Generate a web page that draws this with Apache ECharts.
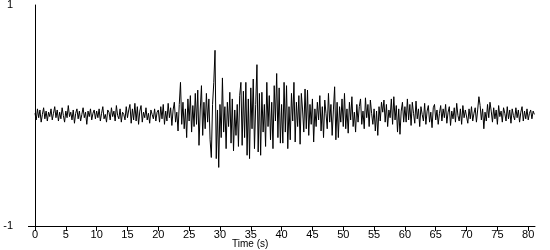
<!DOCTYPE html>
<html>
<head>
<meta charset="utf-8">
<script src="https://cdn.jsdelivr.net/npm/echarts@6/dist/echarts.min.js"></script>
<style>
html,body{margin:0;padding:0;background:#fff;}
#c{width:550px;height:250px;}
</style>
</head>
<body>
<div id="c"></div>
<script>
// Sampling
var dt = 0.2;
var xTicks = [0,5,10,15,20,25,30,35,40,45,50,55,60,65,70,75,80];
var yLabels = [-1, 1];
var yTickValues = [-1];

// Acceleration (cm/s/s), in 10 s segments
var seg00 = [0.02,-0.04,0.06,-0.02,0.05,-0.06,0.01,0.07,-0.03,0.04,
 -0.05,0.03,-0.01,0.06,-0.04,0.02,0.08,-0.02,0.05,-0.05,
 0.03,-0.03,0.07,0.00,-0.06,0.04,-0.02,0.09,-0.01,0.03,
 -0.04,0.05,-0.07,0.02,0.06,-0.03,0.04,-0.05,0.01,0.07,
 -0.02,0.03,-0.08,0.04,-0.01,0.06,-0.04,0.02,0.05,-0.03];
var seg10 = [0.04,-0.02,0.06,-0.05,0.02,0.08,-0.03,0.01,-0.06,0.05,
 0.03,-0.04,0.07,-0.01,0.04,-0.05,0.09,0.00,-0.03,0.06,
 -0.06,0.03,0.01,-0.04,0.08,-0.02,0.05,0.10,-0.07,0.06,
 -0.04,0.11,-0.05,0.08,-0.08,0.04,0.09,-0.06,0.03,-0.02,
 0.07,-0.04,0.02,-0.07,0.05,0.01,-0.03,0.06,-0.05,0.03];
var seg20 = [0.05,-0.06,0.08,-0.03,0.10,-0.08,0.04,-0.05,0.11,-0.02,
 0.07,-0.09,0.05,0.12,-0.06,0.03,-0.14,0.10,0.30,-0.08,
 0.12,-0.12,0.06,-0.20,0.15,-0.05,0.18,-0.15,0.09,-0.10,
 0.20,-0.08,0.23,-0.27,0.05,0.27,-0.18,0.12,-0.12,0.20,
 -0.06,0.15,-0.22,-0.38,0.10,0.30,0.59,-0.39,0.05,-0.47];
var seg30 = [0.10,-0.20,0.34,-0.15,0.08,-0.30,0.12,-0.10,0.21,-0.25,
 0.15,-0.32,0.05,-0.18,0.10,-0.28,0.18,0.30,-0.27,0.22,
 -0.20,0.30,-0.36,0.15,-0.39,0.25,-0.12,0.33,-0.30,0.10,
 0.46,-0.33,0.20,-0.36,0.21,-0.15,0.10,-0.28,0.30,-0.10,
 0.18,-0.22,0.12,-0.30,0.27,-0.05,0.38,-0.20,0.25,-0.25];
var seg40 = [0.10,-0.25,0.30,-0.15,0.27,-0.30,0.08,-0.22,0.20,-0.05,
 0.30,-0.24,0.12,-0.10,0.18,-0.26,0.20,0.05,-0.15,0.24,
 -0.12,0.23,-0.18,0.10,-0.08,0.15,-0.24,0.06,-0.10,0.12,
 -0.04,0.18,-0.14,0.08,-0.20,0.14,0.02,-0.12,0.20,-0.06,
 0.10,-0.18,0.05,0.26,-0.22,0.12,-0.20,0.08,-0.06,0.15];
var seg50 = [-0.10,0.20,-0.12,0.06,-0.16,0.12,-0.04,0.17,-0.10,0.03,
 -0.15,0.10,-0.06,0.08,0.15,-0.08,0.04,-0.12,0.16,-0.02,
 0.10,-0.10,0.14,0.02,-0.08,0.06,-0.14,0.04,-0.18,0.08,
 -0.05,0.12,0.03,0.14,-0.06,0.10,-0.10,0.05,-0.02,0.15,
 -0.08,0.17,-0.04,0.09,-0.15,0.06,-0.17,0.04,0.12,-0.06];
var seg60 = [0.08,-0.06,0.15,-0.04,0.10,-0.09,0.12,0.02,-0.07,0.13,
 -0.03,0.06,-0.10,0.08,0.01,-0.05,0.11,-0.08,0.04,0.09,
 -0.06,0.03,-0.11,0.07,0.10,-0.04,0.05,-0.08,0.02,0.09,
 -0.05,0.06,-0.02,0.10,-0.07,0.03,0.08,-0.09,0.04,-0.03,
 0.07,-0.06,0.11,0.00,-0.05,0.06,-0.08,0.09,-0.02,0.05];
var seg70 = [0.04,-0.07,0.06,-0.03,0.08,-0.05,0.02,0.07,-0.06,0.05,
 0.17,0.09,-0.04,0.06,-0.12,0.03,-0.05,0.10,-0.02,0.12,
 0.04,-0.06,0.07,-0.03,0.05,-0.08,0.09,-0.01,0.04,-0.06,
 0.07,0.02,-0.05,0.08,-0.03,0.05,-0.07,0.06,0.00,-0.04,
 0.07,-0.02,0.05,-0.06,0.03,0.08,-0.05,0.04,-0.03,0.06,
 -0.04,0.02,0.05,-0.03,0.04,0.01];

var acc = [].concat(seg00, seg10, seg20, seg30, seg40, seg50, seg60, seg70);
var data = acc.map(function (v, i) { return [+(i * dt).toFixed(2), v]; });

var font = 'Liberation Sans, Arial, sans-serif';
var chart = echarts.init(document.getElementById('c'), null, {renderer: 'canvas'});
chart.setOption({
  animation: false,
  backgroundColor: '#ffffff',
  title: {
    text: 'Time (s)',
    left: 232, top: 239,
    padding: 0,
    textStyle: {fontFamily: font, fontSize: 10, fontWeight: 'normal', color: '#000'}
  },
  grid: {left: 35, right: 15, top: 5, bottom: 24, containLabel: false, outerBoundsMode: 'none'},
  xAxis: {
    type: 'value', min: 0, max: 81.1, interval: 5,
    splitLine: {show: false},
    axisLine: {onZero: false, lineStyle: {color: '#000', width: 1}},
    axisTick: {length: 5, customValues: xTicks, lineStyle: {color: '#000'}},
    axisLabel: {customValues: xTicks, margin: 3, color: '#000', fontFamily: font, fontSize: 11}
  },
  yAxis: {
    type: 'value', min: -1, max: 1,
    name: 'cm/s/s', nameLocation: 'middle', nameGap: 22, nameRotate: 90,
    nameTextStyle: {fontFamily: font, fontSize: 10, color: '#000'},
    splitLine: {show: false},
    axisLine: {show: true, lineStyle: {color: '#000', width: 1}},
    axisTick: {show: true, length: 7, customValues: yTickValues, lineStyle: {color: '#000'}},
    axisLabel: {customValues: yLabels, margin: 22, color: '#000', fontFamily: font, fontSize: 11}
  },
  series: [{
    type: 'line',
    data: data,
    showSymbol: false,
    symbol: 'none',
    sampling: null,
    lineStyle: {color: '#000', width: 1},
    silent: true
  }]
});
</script>
</body>
</html>
